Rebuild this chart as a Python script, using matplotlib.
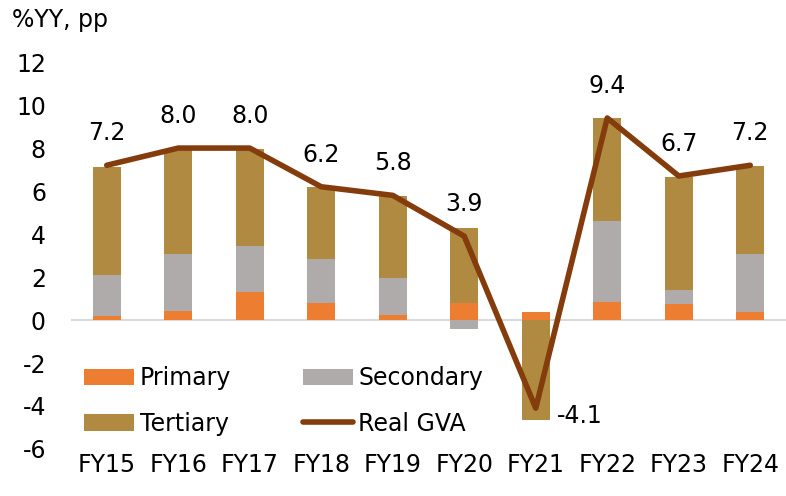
import matplotlib
matplotlib.use("Agg")
import matplotlib.pyplot as plt
import numpy as np

categories = ["FY15", "FY16", "FY17", "FY18", "FY19", "FY20", "FY21", "FY22", "FY23", "FY24"]
primary = [0.2, 0.4, 1.3, 0.8, 0.25, 0.8, 0.37, 0.85, 0.73, 0.35]
secondary = [1.9, 2.65, 2.15, 2.05, 1.7, -0.4, 0.0, 3.75, 0.65, 2.72]
tertiary = [5.0, 4.9, 4.5, 3.35, 3.8, 3.5, -4.65, 4.8, 5.27, 4.1]
real_gva = [7.2, 8.0, 8.0, 6.2, 5.8, 3.9, -4.1, 9.4, 6.7, 7.2]
yticks = [-6, -4, -2, 0, 2, 4, 6, 8, 10, 12]

c_pri = "#ED7D31"
c_sec = "#AFABAB"
c_ter = "#AF8A40"
c_line = "#843C0C"

plt.rcParams['font.family'] = ['DejaVu Sans']
fs = 17

fig = plt.figure(figsize=(7.86, 4.96), dpi=100)
ax = fig.add_axes([0.0903, 0.0948, 0.9097, 0.78])

x = np.arange(len(categories))
w = 0.39
pri = np.array(primary)
sec = np.array(secondary)
ter = np.array(tertiary)

# stacking: positives up, negatives down
pos_base = np.zeros(len(x))
neg_base = np.zeros(len(x))
def stack(vals, color, label):
    global pos_base, neg_base
    bottoms = np.where(vals >= 0, pos_base, neg_base)
    ax.bar(x, vals, w, bottom=bottoms, color=color, label=label, zorder=2)
    pos_base = pos_base + np.where(vals >= 0, vals, 0)
    neg_base = neg_base + np.where(vals < 0, vals, 0)

stack(pri, c_pri, "Primary")
stack(sec, c_sec, "Secondary")
stack(ter, c_ter, "Tertiary")

ax.axhline(0, color="#D9D9D9", lw=1.5, zorder=1)
ax.plot(x, real_gva, color=c_line, lw=4.0, label="Real GVA", zorder=3, solid_capstyle="round")

for xi, v in zip(x, real_gva):
    if v < 0:
        ax.annotate(f"{v:.1f}", (xi, v), xytext=(15, -6), textcoords="offset points",
                    ha="left", va="center", fontsize=fs)
    else:
        ax.annotate(f"{v:.1f}", (xi, v), xytext=(0, 23), textcoords="offset points",
                    ha="center", va="center", fontsize=fs)

ax.set_xlim(-0.5, len(x) - 0.5)
ax.set_ylim(-6, 12)
ax.set_yticks(yticks)
ax.set_yticklabels([str(t) for t in yticks], fontsize=fs)
ax.set_xticks(x)
ax.set_xticklabels(categories, fontsize=fs)
ax.tick_params(axis="y", length=0, pad=18)
ax.tick_params(axis="x", length=0, pad=3)
for s in ax.spines.values():
    s.set_visible(False)

handles, labels = ax.get_legend_handles_labels()
order = [labels.index(l) for l in ["Primary", "Tertiary", "Secondary", "Real GVA"]]
leg = fig.legend([handles[i] for i in order], [labels[i] for i in order],
                 loc="upper left", bbox_to_anchor=(0.092, 0.285), ncol=2, frameon=False,
                 fontsize=fs, handlelength=2.1, handleheight=0.7, handletextpad=0.25,
                 columnspacing=3.05, labelspacing=0.9, borderpad=0)

fig.text(0.015, 0.96, "%YY, pp", fontsize=fs, ha="left", va="center")

fig.savefig("out.png", dpi=100)
